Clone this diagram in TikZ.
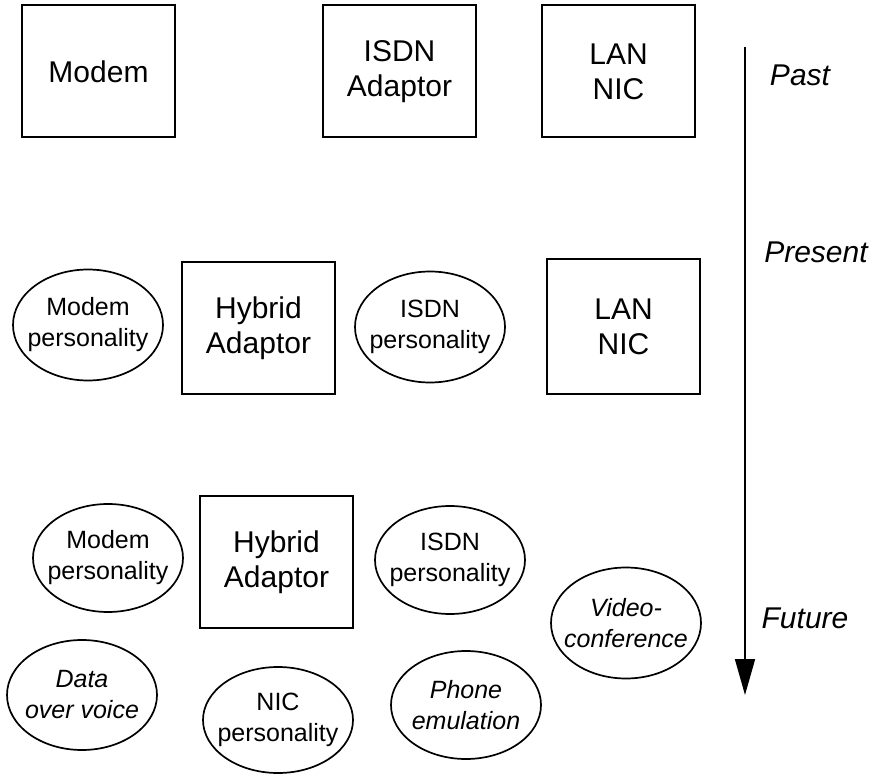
\documentclass[tikz,border=0pt]{standalone}
\usepackage{fontspec}
\setmainfont{Liberation Sans}
\usepackage{tikz}
\usetikzlibrary{shapes.geometric,arrows.meta}
\tikzset{>={Triangle[length=36pt,width=20pt]}}

\begin{document}
\begin{tikzpicture}
    [
      x=1pt, y=-1pt,
      device/.style={rectangle, draw, line width=2pt, minimum width=153pt, minimum height=132pt, align=center, inner sep=0pt, font=\fontsize{30}{35}\selectfont},
      persona/.style={ellipse, draw, line width=1.7pt, minimum width=150pt, minimum height=108pt, align=center, inner xsep=-30pt, inner ysep=0pt, font=\fontsize{25}{31}\selectfont},
      newpersona/.style={persona, font=\fontsize{25}{31}\selectfont\itshape},
      era/.style={font=\fontsize{30}{35}\selectfont\itshape},
      arr/.style={->, draw, line width=1.7pt}
    ]
    \useasboundingbox (0,0) rectangle (870,775);
    % past
    \node (modem) [device] at (98.5,71.5) {Modem};
    \node (isdn-a) [device] at (399.5,71.5) {ISDN\\Adaptor};
    \node (lan-1) [device] at (618.5,71.5) {LAN\\NIC};
    % present
    \node (modem-p1) [persona, minimum height=111pt] at (88,325) {Modem\\personality};
    \node (hybrid-1) [device] at (258.5,328) {Hybrid\\Adaptor};
    \node (isdn-p1) [persona, minimum height=111pt] at (430,327) {ISDN\\personality};
    \node (lan-2) [device, minimum height=135pt] at (623.5,326.5) {LAN\\NIC};
    % future
    \node (modem-p2) [persona] at (108,558) {Modem\\personality};
    \node (hybrid-2) [device] at (276.5,562) {Hybrid\\Adaptor};
    \node (isdn-p2) [persona] at (450,560) {ISDN\\personality};
    \node (video) [newpersona, minimum height=111pt] at (626,623) {Video-\\conference};
    \node (dov) [newpersona, minimum height=110pt] at (82,695) {Data\\over voice};
    \node (nic-p) [persona, minimum height=106pt] at (278,720) {NIC\\personality};
    \node (phone) [newpersona] at (466,705) {Phone\\emulation};

    % time line
    \coordinate (t-start) at (745,47);
    \coordinate (t-end) at (745,695);
    \draw [arr] (t-start) -- (t-end);
    \node (past) [era] at (800,75) {Past};
    \node (present) [era] at (816,252) {Present};
    \node (future) [era] at (805,618) {Future};
  \end{tikzpicture}
\end{document}
